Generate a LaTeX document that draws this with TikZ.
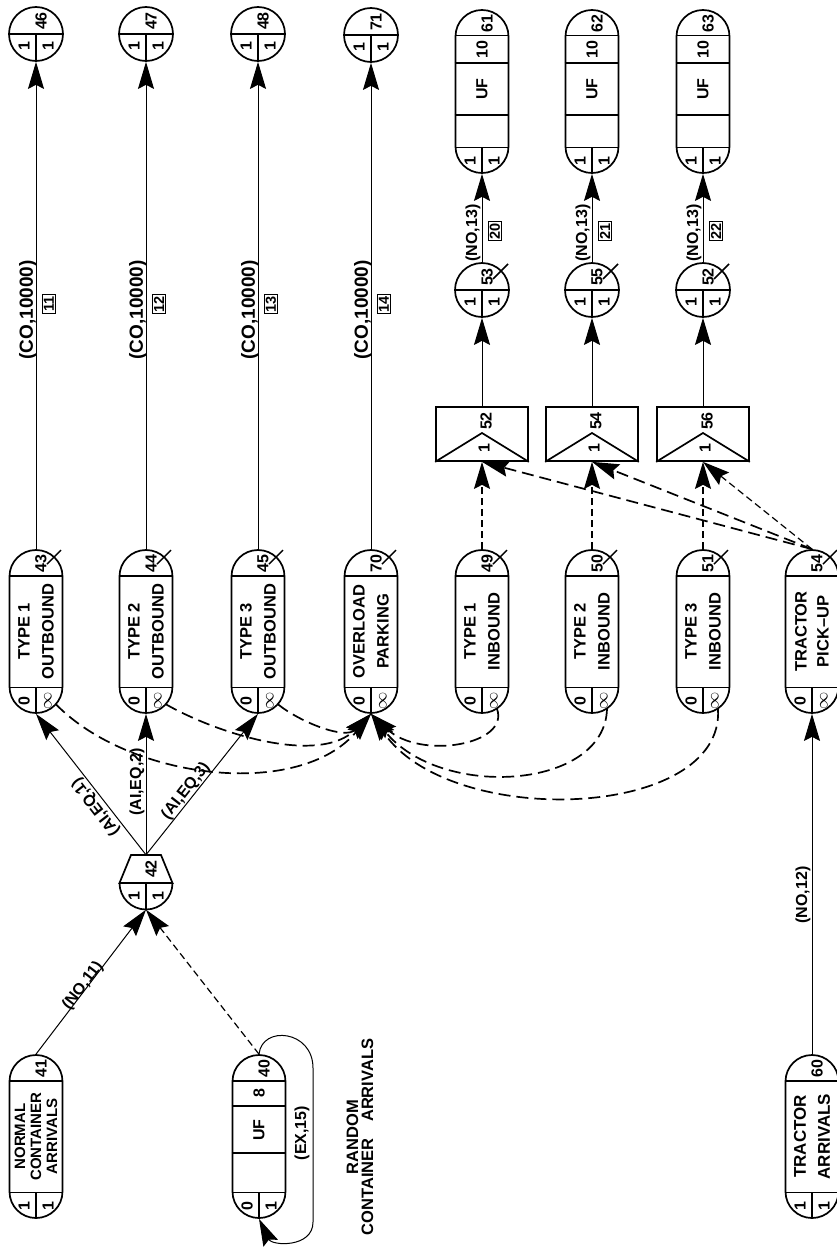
\documentclass[tikz,border=0pt]{standalone}
\usepackage{fontspec}
\setmainfont{Liberation Sans}
\usetikzlibrary{arrows.meta}
\tikzset{
  sline/.style={line width=1.7pt},
  xline/.style={line width=1.5pt},
  capsule/.style={draw, line width=1.7pt, rounded corners=26.4pt, minimum width=53pt, minimum height=163pt, inner sep=0pt},
  qcirc/.style={draw, circle, line width=1.7pt, minimum size=54pt, inner sep=0pt},
  actbox/.style={draw, line width=1.7pt, minimum width=92pt, minimum height=54pt, inner sep=0pt},
  txt/.style={rotate=90, font=\fontsize{16.5}{24}\selectfont\bfseries, align=center, inner sep=0pt},
  num/.style={rotate=90, font=\fontsize{16}{16}\selectfont\bfseries, inner sep=0pt},
  lab/.style={rotate=90, font=\fontsize{19}{19}\selectfont\bfseries, inner sep=0pt},
  slab/.style={font=\fontsize{16}{16}\selectfont\bfseries, inner sep=0pt},
  nbox/.style={draw, line width=1.2pt, rotate=90, font=\fontsize{14.5}{14.5}\selectfont\bfseries, inner sep=1.6pt},
  arrtip/.style={-{Stealth[length=27pt,width=16pt,inset=4pt]}},
  flow/.style={arrtip, line width=1pt},
  dflow/.style={arrtip, line width=1.2pt, dash pattern=on 7pt off 4pt},
  lflow/.style={arrtip, line width=1.7pt, dash pattern=on 12pt off 6pt},
}
\newcommand\QCapsule[3]{%
  \node[capsule] (#1) at (#2,-#3-81.5) {};
  \draw[sline] ([yshift=-26.5pt]#1.north west) -- ([yshift=-26.5pt]#1.north east)
    ([yshift=26.5pt]#1.south west) -- ([yshift=26.5pt]#1.south east)
    ([yshift=26.5pt]#1.south) -- (#1.south);}
\newcommand\QTop[2]{\node[num] at ([xshift=5pt,yshift=-14pt]#1.north) {#2};}
\newcommand\QBot[3]{\node[num] at ([xshift=-12pt,yshift=13pt]#1.south) {#2};
  \node[num] at ([xshift=12pt,yshift=13pt]#1.south) {#3};}
\newcommand\QMark[1]{\draw[xline] ([xshift=11pt,yshift=-15pt]#1.north) -- ([xshift=25pt,yshift=-1pt]#1.north);}
\newcommand\QCircle[4]{%
  \node[qcirc] (#1) at (#2,-#3) {};
  \draw[sline] (#1.west) -- (#1.east) (#1.center) -- (#1.south);
  \node[num] at ([xshift=5pt,yshift=13pt]#1.center) {#4};
  \node[num] at ([xshift=-12pt,yshift=-12pt]#1.center) {1};
  \node[num] at ([xshift=12pt,yshift=-12pt]#1.center) {1};}
\newcommand\QCMark[1]{\draw[xline] ([xshift=11pt,yshift=11pt]#1.center) -- ([xshift=26pt,yshift=26pt]#1.center);}
\newcommand\QAct[4]{%
  \node[actbox] (#1) at (#2,-#3) {};
  \draw[sline] (#1.south west) -- ([yshift=1pt]#1.center) -- (#1.south east);
  \node[num] at ([xshift=4pt,yshift=13pt]#1.center) {#4};
  \node[num] at ([xshift=2pt,yshift=-14pt]#1.center) {1};}
\newcommand\QUFnode[5]{%
  \QCapsule{#1}{#2}{#3}
  \draw[sline] ([yshift=-54pt]#1.north west) -- ([yshift=-54pt]#1.north east)
    ([yshift=-106pt]#1.north west) -- ([yshift=-106pt]#1.north east);
  \QTop{#1}{#4}
  \node[num] at ([yshift=-40pt]#1.north) {#5};
  \node[num] at ([yshift=-80pt]#1.north) {UF};}
\begin{document}
\begin{tikzpicture}[x=1pt,y=1pt]
\fill[white] (0,0) rectangle (837,-1247);
\useasboundingbox (0,0) rectangle (837,-1247);

% ---- sink circles (top)
\QCircle{c46}{36}{34}{46}
\QCircle{c47}{146}{34}{47}
\QCircle{c48}{258}{34}{48}
\QCircle{c71}{371}{35}{71}

% ---- UF nodes (top right)
\QUFnode{n61}{482}{10}{61}{10} \QBot{n61}{1}{1}
\QUFnode{n62}{592}{10}{62}{10} \QBot{n62}{1}{1}
\QUFnode{n63}{703}{10}{63}{10} \QBot{n63}{1}{1}

% ---- circles 53 55 52
\QCircle{c53}{482}{290}{53} \QCMark{c53}
\QCircle{c55}{592}{290}{55} \QCMark{c55}
\QCircle{c52}{703}{290}{52} \QCMark{c52}

% ---- activity boxes
\QAct{a52}{482}{434}{52}
\QAct{a54}{592}{434}{54}
\QAct{a56}{703}{434}{56}

% ---- queue nodes row
\QCapsule{n43}{36}{550} \QTop{n43}{43} \QBot{n43}{0}{$\infty$} \QMark{n43}
\node[txt] at (n43.center) {TYPE 1\\OUTBOUND};
\QCapsule{n44}{146}{550} \QTop{n44}{44} \QBot{n44}{0}{$\infty$} \QMark{n44}
\node[txt] at (n44.center) {TYPE 2\\OUTBOUND};
\QCapsule{n45}{258}{550} \QTop{n45}{45} \QBot{n45}{0}{$\infty$} \QMark{n45}
\node[txt] at (n45.center) {TYPE 3\\OUTBOUND};
\QCapsule{n70}{371}{550} \QTop{n70}{70} \QBot{n70}{0}{$\infty$} \QMark{n70}
\node[txt] at (n70.center) {OVERLOAD\\PARKING};
\QCapsule{n49}{482}{550} \QTop{n49}{49} \QBot{n49}{0}{$\infty$} \QMark{n49}
\node[txt] at (n49.center) {TYPE 1\\INBOUND};
\QCapsule{n50}{592}{550} \QTop{n50}{50} \QBot{n50}{0}{$\infty$} \QMark{n50}
\node[txt] at (n50.center) {TYPE 2\\INBOUND};
\QCapsule{n51}{703}{550} \QTop{n51}{51} \QBot{n51}{0}{$\infty$} \QMark{n51}
\node[txt] at (n51.center) {TYPE 3\\INBOUND};
\QCapsule{n54}{812}{550} \QTop{n54}{54} \QBot{n54}{0}{$\infty$} \QMark{n54}
\node[txt, font=\fontsize{16.5}{22}\selectfont\bfseries] at (n54.center) {TRACTOR\\PICK–UP};

% ---- node 42
\node[minimum width=53pt, minimum height=54.5pt, inner sep=0pt] (n42) at (146,-882.25) {};
\draw[sline] (131,-855) -- (161,-855) -- (172.5,-883) -- (119.5,-883) -- cycle;
\draw[sline] (119.5,-883) arc[start angle=180, end angle=360, radius=26.5];
\draw[sline] (146,-883) -- (146,-909.5);
\node[num] at (151,-869) {42};
\node[num] at (134,-896) {1};
\node[num] at (158,-896) {1};

% ---- source nodes (bottom)
\QCapsule{n41}{36}{1055} \QTop{n41}{41} \QBot{n41}{1}{1}
\node[txt, font=\fontsize{15}{16}\selectfont\bfseries] at (n41.center) {NORMAL\\CONTAINER\\ARRIVALS};
\QCapsule{n40}{259}{1055} \QTop{n40}{40} \QBot{n40}{0}{1}
\draw[sline] ([yshift=-52pt]n40.north west) -- ([yshift=-52pt]n40.north east)
  ([yshift=-99pt]n40.north west) -- ([yshift=-99pt]n40.north east);
\node[num] at ([yshift=-39pt]n40.north) {8};
\node[num] at ([yshift=-76pt]n40.north) {UF};
\QCapsule{n60}{812}{1055} \QTop{n60}{60} \QBot{n60}{1}{1}
\node[txt, font=\fontsize{17}{24}\selectfont\bfseries] at (n60.center) {TRACTOR\\ARRIVALS};

\node[txt, font=\fontsize{16.5}{15}\selectfont\bfseries] (rca) at (360,-1137) {RANDOM\\CONTAINER\quad ARRIVALS};

% ---- connectors: to sinks
\draw[flow] (n43.north) -- (c46.south);
\draw[flow] (n44.north) -- (c47.south);
\draw[flow] (n45.north) -- (c48.south);
\draw[flow] (n70.north) -- (c71.south);
\node[lab] at (28,-310) {(CO,10000)};  \node[nbox] at (49,-304) {11};
\node[lab] at (138,-310) {(CO,10000)}; \node[nbox] at (159,-304) {12};
\node[lab] at (250,-310) {(CO,10000)}; \node[nbox] at (271,-304) {13};
\node[lab] at (363,-310) {(CO,10000)}; \node[nbox] at (384,-304) {14};

% ---- inbound chain
\draw[dflow] (n49.north) -- (a52.south);
\draw[dflow] (n50.north) -- (a54.south);
\draw[dflow] (n51.north) -- (a56.south);
\draw[flow] (a52.north) -- (c53.south);
\draw[flow] (a54.north) -- (c55.south);
\draw[flow] (a56.north) -- (c52.south);
\draw[flow] (c53.north) -- (n61.south);
\draw[flow] (c55.north) -- (n62.south);
\draw[flow] (c52.north) -- (n63.south);
\node[slab, rotate=90] at (473,-233) {(NO,13)}; \node[nbox] at (495,-231) {20};
\node[slab, rotate=90] at (583,-233) {(NO,13)}; \node[nbox] at (605,-231) {21};
\node[slab, rotate=90] at (694,-233) {(NO,13)}; \node[nbox] at (716,-231) {22};

% ---- tractor
\draw[lflow] (n54.north) -- (a52.south);
\draw[lflow] (n54.north) -- (a54.south);
\draw[dflow] (n54.north) -- (a56.south);
\draw[flow] (n60.north) -- (n54.south);
\node[slab, rotate=90] at (803,-895) {(NO,12)};

% ---- node 42 branches
\draw[flow] (n42.north) -- (n43.south);
\draw[flow] (n42.north) -- (n44.south);
\draw[flow] (n42.north) -- (n45.south);
\node[slab, rotate=127.8] at (96,-807) {(AI,EQ,1)};
\node[slab, rotate=90] at (137,-782) {(AI,EQ,2)};
\node[slab, rotate=52] at (186,-791) {(AI,EQ,3)};

% ---- arrivals to 42
\draw[flow] (n41.north) -- (n42.south);
\draw[dflow] (n40.north) -- (n42.south);
\node[slab, rotate=52.8] at (83,-986) {(NO,11)};
\draw[flow] (n40.north) .. controls (262,-1025) and (313,-1030) .. (313,-1068)
  -- (313,-1222) .. controls (313,-1248) and (272,-1246) .. (n40.south);
\node[slab, rotate=90] at (302,-1133) {(EX,15)};

% ---- overflow to overload parking
\draw[lflow] ([xshift=20pt,yshift=9.5pt]n43.south) .. controls (130,-780) and (300,-800) .. (n70.south);
\draw[lflow] ([xshift=20pt,yshift=9.5pt]n44.south) .. controls (220,-735) and (320,-765) .. (n70.south);
\draw[lflow] ([xshift=20pt,yshift=9.5pt]n45.south) .. controls (300,-722) and (345,-740) .. (n70.south);
\draw[lflow] ([xshift=15pt,yshift=5pt]n49.south) .. controls (510,-745) and (420,-760) .. (n70.south);
\draw[lflow] ([xshift=15pt,yshift=5pt]n50.south) .. controls (605,-790) and (440,-800) .. (n70.south);
\draw[lflow] ([xshift=15pt,yshift=5pt]n51.south) .. controls (725,-820) and (450,-830) .. (n70.south);
\end{tikzpicture}
\end{document}
